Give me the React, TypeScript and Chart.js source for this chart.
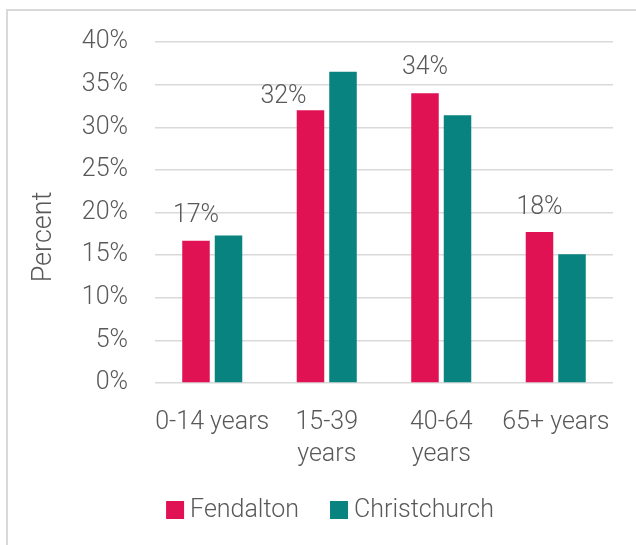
import React, { useEffect, useRef } from "react";
import { Chart, registerables } from "chart.js";

Chart.register(...registerables);

const categories: (string | string[])[] = ["0-14 years", ["15-39", "years"], ["40-64", "years"], "65+ years"];
const fendalton = [16.7, 32.0, 34.0, 17.7];
const christchurch = [17.3, 36.5, 31.4, 15.1];
const seriesNames = ["Fendalton", "Christchurch"];
const seriesColors = ["#E11254", "#08837F"];
const yTickValues = [0, 5, 10, 15, 20, 25, 30, 35, 40];
const yTitle = "Percent";

const FONT = "Roboto, 'Noto Sans', sans-serif";
const WEIGHT = "300";
const TEXT = "#595959";
const GRID = "#d9d9d9";

// per-label nudges for the data labels of the first series
const labelDx = [0, -27, 0, 0];
const labelDy = [19, 7, 19, 18];

const overlayPlugin = {
  id: "overlay",
  afterDatasetsDraw(chart: any) {
    const ctx = chart.ctx;
    ctx.save();
    const meta = chart.getDatasetMeta(0);
    ctx.font = `${WEIGHT} 25px ${FONT}`;
    ctx.fillStyle = TEXT;
    ctx.textAlign = "center";
    ctx.textBaseline = "alphabetic";
    meta.data.forEach((bar: any, i: number) => {
      const v = chart.data.datasets[0].data[i];
      ctx.fillText(Math.round(v) + "%", bar.x + labelDx[i], bar.y - labelDy[i]);
    });
    ctx.save();
    ctx.translate(51, 237);
    ctx.rotate(-Math.PI / 2);
    ctx.font = `${WEIGHT} 27px ${FONT}`;
    ctx.textAlign = "center";
    ctx.textBaseline = "alphabetic";
    ctx.fillText(yTitle, 0, 0);
    ctx.restore();
    ctx.font = `${WEIGHT} 25px ${FONT}`;
    const box = 18;
    const gapText = 6;
    const gapItem = 31;
    const items = chart.data.datasets.map((d: any) => ({ text: d.label, color: d.backgroundColor }));
    const widths = items.map((it: any) => box + gapText + ctx.measureText(it.text).width);
    const total = widths.reduce((a: number, b: number) => a + b, 0) + gapItem * (items.length - 1);
    let x = chart.width / 2 - total / 2;
    ctx.textAlign = "left";
    items.forEach((it: any, i: number) => {
      ctx.fillStyle = it.color;
      ctx.fillRect(x, 501, box, box);
      ctx.fillStyle = TEXT;
      ctx.fillText(it.text, x + box + gapText, 517);
      x += widths[i] + gapItem;
    });
    ctx.restore();
  },
};

export default function App() {
  const ref = useRef<HTMLCanvasElement | null>(null);
  useEffect(() => {
    if (!ref.current) return;
    const chart = new Chart(ref.current, {
      type: "bar",
      data: {
        labels: categories,
        datasets: [
          { label: seriesNames[0], data: fendalton, backgroundColor: seriesColors[0] },
          { label: seriesNames[1], data: christchurch, backgroundColor: seriesColors[1] },
        ],
      },
      options: {
        responsive: false,
        animation: false,
        devicePixelRatio: 1,
        layout: { padding: { left: 0, right: 47, top: 40, bottom: 78 } },
        datasets: { bar: { categoryPercentage: 0.568, barPercentage: 0.846 } },
        plugins: { legend: { display: false }, tooltip: { enabled: false } },
        scales: {
          x: {
            grid: { display: false },
            border: { display: false },
            ticks: {
              color: TEXT,
              font: { family: FONT, size: 25, weight: WEIGHT, lineHeight: 1.26 },
              padding: 16,
              autoSkip: false,
              maxRotation: 0,
              minRotation: 0,
            },
            afterFit: (axis: any) => {
              axis.height = 84;
            },
          },
          y: {
            min: 0,
            max: 40,
            afterBuildTicks: (axis: any) => {
              axis.ticks = yTickValues.map((v) => ({ value: v }));
            },
            grid: { color: GRID, lineWidth: 1.5, drawTicks: false },
            border: { display: false },
            ticks: {
              color: TEXT,
              font: { family: FONT, size: 25, weight: WEIGHT },
              padding: 27,
              callback: (v: any) => v + "%",
            },
            afterFit: (axis: any) => {
              axis.width = 155;
            },
          },
        },
      },
      plugins: [overlayPlugin],
    });
    return () => chart.destroy();
  }, []);
  return (
    <div style={{ position: "fixed", left: 0, top: 0, width: 636, height: 545, overflow: "hidden", background: "#fff" }}>
      <div
        style={{
          position: "absolute",
          left: 6,
          top: 9,
          width: 800,
          height: 800,
          borderLeft: "2px solid #d9d9d9",
          borderTop: "2px solid #d9d9d9",
        }}
      />
      <canvas ref={ref} width={660} height={545} style={{ position: "absolute", left: 0, top: 0, display: "block" }} />
    </div>
  );
}
